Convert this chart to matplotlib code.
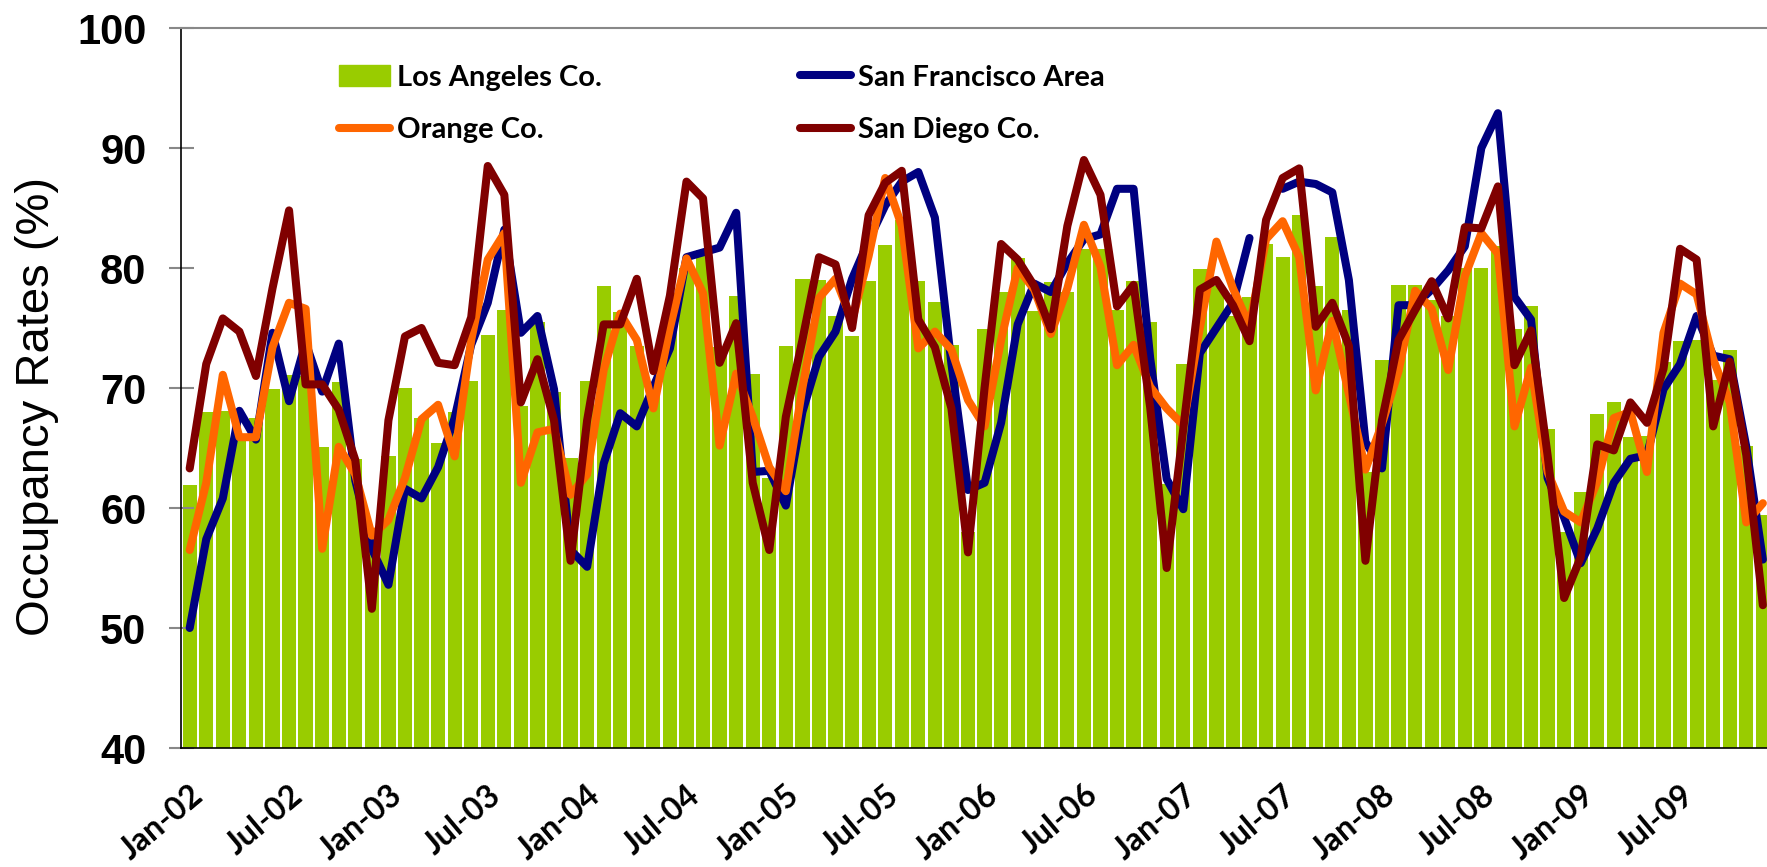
import numpy as np
import pandas as pd
import matplotlib
matplotlib.use('Agg')
import matplotlib.pyplot as plt
from matplotlib.patches import Patch
from matplotlib.lines import Line2D

# monthly hotel occupancy, Jan-02 .. Dec-09
months = pd.date_range('2002-01-01', periods=96, freq='MS')
month_labels = [d.strftime('%b-%y') for d in months]

los_angeles = [61.9, 68.0, 68.1, 65.8, 67.5, 69.9, 71.1, 71.0, 65.1, 70.5, 64.1, 58.0,
               64.3, 70.0, 67.5, 65.4, 68.0, 70.6, 74.4, 76.5, 68.5, 75.5, 69.7, 64.2,
               70.6, 78.5, 76.3, 73.5, 70.0, 75.0, 80.0, 81.5, 73.4, 77.7, 71.2, 62.5,
               73.5, 79.1, 79.0, 76.0, 74.3, 78.9, 81.9, 84.0, 78.9, 77.2, 73.6, 58.0,
               74.9, 78.0, 80.8, 76.4, 78.8, 78.0, 81.6, 81.6, 76.5, 78.9, 75.5, 62.0,
               72.0, 79.9, 78.5, 76.0, 77.6, 82.0, 80.9, 84.4, 78.5, 82.6, 76.5, 63.0,
               72.3, 78.6, 78.6, 77.3, 76.0, 80.0, 80.0, 81.8, 74.9, 76.8, 66.6, 58.0,
               61.3, 67.8, 68.8, 65.9, 66.0, 72.2, 73.9, 74.0, 70.7, 73.2, 65.2, 59.4]

san_francisco = [50.0, 57.4, 60.8, 68.1, 65.7, 74.6, 68.9, 73.8, 69.7, 73.7, 62.3, 56.6,
                 53.6, 61.6, 60.8, 63.4, 67.5, 73.6, 77.1, 83.2, 74.6, 76.0, 69.9, 56.5,
                 55.1, 63.7, 67.9, 66.8, 70.1, 73.3, 80.9, 81.3, 81.7, 84.6, 63.0, 63.1,
                 60.2, 68.0, 72.6, 74.7, 79.1, 82.3, 85.2, 87.2, 88.0, 84.2, 72.0, 61.5,
                 62.1, 67.1, 75.3, 78.7, 78.0, 80.4, 82.4, 82.8, 86.6, 86.6, 72.5, 62.4,
                 59.9, 72.9, 75.0, 77.1, 82.5, np.nan, 86.6, 87.2, 87.0, 86.3, 79.0, 65.5,
                 63.3, 76.9, 76.9, 78.2, 79.8, 81.8, 90.0, 92.9, 77.6, 75.7, 62.5, 59.2,
                 55.4, 58.3, 62.1, 64.1, 64.4, 69.9, 72.0, 76.0, 72.7, 72.4, 65.1, 55.7]

orange = [56.5, 62.1, 71.1, 65.9, 65.9, 73.4, 77.1, 76.6, 56.6, 65.1, 62.8, 57.7,
          59.0, 62.5, 67.4, 68.6, 64.3, 74.0, 80.7, 82.9, 62.1, 66.3, 66.6, 61.1,
          62.8, 71.5, 76.2, 74.0, 68.3, 75.0, 80.8, 77.9, 65.2, 71.2, 67.6, 63.4,
          61.4, 70.0, 77.5, 79.1, 75.6, 81.0, 87.5, 83.5, 73.3, 74.7, 73.2, 69.0,
          66.8, 74.0, 80.0, 78.2, 74.5, 78.3, 83.6, 80.1, 71.9, 73.6, 70.1, 68.3,
          66.9, 75.0, 82.2, 78.3, 75.2, 82.4, 83.9, 80.9, 69.8, 75.6, 69.5, 63.2,
          67.0, 71.4, 78.1, 76.6, 71.5, 79.3, 82.9, 81.2, 66.8, 71.7, 63.0, 59.7,
          58.8, 62.2, 67.5, 68.0, 63.0, 74.6, 78.7, 77.8, 72.4, 68.8, 58.8, 60.4]

san_diego = [63.3, 72.0, 75.8, 74.7, 71.0, 78.3, 84.8, 70.3, 70.3, 68.2, 64.0, 51.6,
             67.3, 74.3, 75.0, 72.1, 71.9, 75.9, 88.5, 86.1, 68.8, 72.4, 67.3, 55.6,
             67.3, 75.3, 75.3, 79.1, 71.4, 77.7, 87.2, 85.8, 72.1, 75.4, 62.1, 56.5,
             67.6, 74.0, 80.9, 80.3, 75.0, 84.4, 87.1, 88.1, 75.7, 73.4, 68.3, 56.3,
             70.0, 82.0, 80.7, 78.5, 74.9, 83.5, 89.0, 86.1, 76.8, 78.6, 68.4, 55.0,
             66.6, 78.2, 79.0, 76.9, 73.9, 84.0, 87.5, 88.3, 75.1, 77.1, 73.5, 55.6,
             67.3, 74.0, 76.5, 78.9, 75.8, 83.4, 83.3, 86.8, 71.9, 74.8, 64.4, 52.5,
             55.9, 65.3, 64.8, 68.8, 67.1, 71.6, 81.6, 80.7, 66.8, 72.2, 64.4, 51.9]

LA_COLOR = '#99CC00'
SF_COLOR = '#000080'
OC_COLOR = '#FF6600'
SD_COLOR = '#800000'
LW = 5.8

x = np.arange(len(month_labels))
fig = plt.figure(figsize=(17.67, 8.67), dpi=100)
ax = fig.add_axes([181 / 1767, 119 / 867, 1586 / 1767, 720 / 867])

ax.bar(x, los_angeles, width=0.86, color=LA_COLOR, zorder=1)
for series, col in [(san_francisco, SF_COLOR), (orange, OC_COLOR), (san_diego, SD_COLOR)]:
    ax.plot(x, series, color=col, lw=LW, solid_joinstyle='round',
            solid_capstyle='round', zorder=2)

ax.set_xlim(-0.525, 95.25)
ax.set_ylim(40, 100)
ax.set_yticks(range(40, 101, 10))
ax.tick_params(axis='y', direction='inout', length=18, width=1.5, color='#888888',
               pad=16, labelsize=30)
for lab in ax.get_yticklabels():
    lab.set_fontfamily('Liberation Sans')
    lab.set_fontweight('bold')

tick_pos = [i for i, d in enumerate(months) if d.month in (1, 7)]
ax.set_xticks(tick_pos)
ax.set_xticklabels([month_labels[i] for i in tick_pos], rotation=40,
                   ha='right', va='top', rotation_mode='anchor',
                   fontsize=23, fontweight='bold', family='Lato')
ax.tick_params(axis='x', length=0, pad=23)

ax.spines['right'].set_visible(False)
ax.spines['top'].set_color('#888888')
ax.spines['top'].set_linewidth(1.5)
ax.spines['left'].set_linewidth(1.2)
ax.spines['bottom'].set_linewidth(1.2)

ax.set_ylabel('Occupancy Rates (%)', fontsize=34, family='Liberation Sans')
ax.yaxis.set_label_coords(-0.077, 0.474)

handles = [Patch(color=LA_COLOR),
           Line2D([], [], color=OC_COLOR, lw=LW, solid_capstyle='round'),
           Line2D([], [], color=SF_COLOR, lw=LW, solid_capstyle='round'),
           Line2D([], [], color=SD_COLOR, lw=LW, solid_capstyle='round')]
labels = ['Los Angeles Co.', 'Orange Co.', 'San Francisco Area', 'San Diego Co.']
leg = ax.legend(handles, labels, ncol=2, frameon=False, loc='upper left',
                bbox_to_anchor=(324 / 1767, 1 - 50 / 867), bbox_transform=fig.transFigure,
                prop={'family': 'Lato', 'weight': 'bold', 'size': 21},
                handlelength=1.75, handleheight=0.7, handletextpad=0.25,
                labelspacing=0.9, columnspacing=6.8, borderpad=0)

fig.savefig('out.png', dpi=100)
